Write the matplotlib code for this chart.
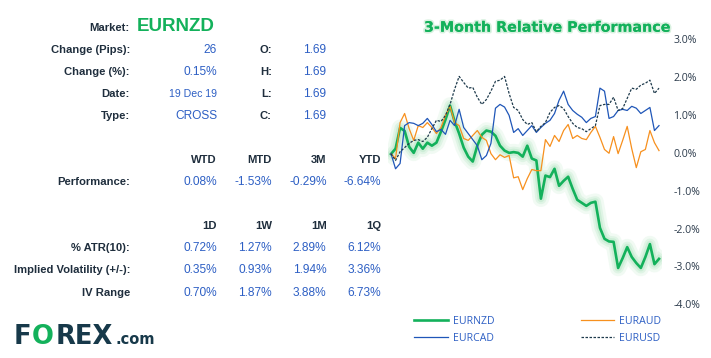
import matplotlib
matplotlib.use('Agg')
import matplotlib.pyplot as plt
import matplotlib.patheffects as pe
from matplotlib.ticker import FuncFormatter

# 3-month relative performance (%), one value per trading day
eurnzd = [-0.03, 0.11, 0.66, 0.58, 0.16, 0.00, 0.27, 0.11, 0.27, 0.19,
          0.27, 0.56, 0.88, 1.25, 0.83, 0.51, 0.14, -0.10, -0.23, 0.19,
          0.48, 0.59, 0.56, 0.45, 0.19, 0.06, 0.00, 0.02, 0.00, -0.10,
          0.19, -0.15, -0.20, -1.21, -0.60, -0.64, -0.42, -0.87, -0.74, -0.63,
          -0.95, -1.24, -1.32, -1.40, -1.32, -1.29, -1.98, -2.27, -2.34, -2.35,
          -3.04, -2.78, -2.49, -2.75, -2.91, -3.04, -2.75, -2.41, -2.94, -2.80]
euraud = [-0.02, -0.15, 0.80, 1.04, 0.64, 0.33, 0.72, 0.67, 0.80, 0.67,
          0.51, 0.67, 0.99, 1.23, 0.80, 0.72, 0.38, 0.33, 0.46, 0.59,
          0.41, 0.33, -0.02, -0.18, -0.05, -0.12, -0.07, -0.66, -0.63, -0.97,
          -0.68, -0.44, -0.47, -0.47, 0.35, 0.17, 0.46, 0.30, 0.59, 0.75,
          0.38, 0.46, 0.38, 0.35, 0.54, 0.70, 0.41, 0.09, -0.01, 0.43,
          -0.02, 0.33, 0.70, 0.11, -0.39, 0.03, 0.09, 0.59, 0.27, 0.06]
eurcad = [-0.02, -0.42, -0.28, 0.72, 0.80, 0.78, 0.72, 0.78, 0.91, 0.75,
          0.56, 0.62, 0.49, 0.86, 0.72, 1.15, 0.67, 0.51, 0.35, 0.19,
          -0.18, -0.07, 0.25, 1.18, 1.28, 1.21, 0.99, 0.54, 0.64, 0.46,
          0.59, 0.72, 0.54, 0.67, 0.78, 0.86, 1.04, 1.39, 1.63, 1.28,
          1.12, 1.02, 0.94, 0.80, 0.91, 0.96, 1.71, 1.63, 0.91, 0.96,
          1.12, 1.15, 1.12, 1.23, 1.18, 1.04, 1.12, 1.20, 0.59, 0.72]
eurusd = [-0.02, -0.20, 0.03, 0.14, 0.25, 0.33, 0.35, 0.30, 0.41, 0.64,
          0.86, 0.83, 0.99, 1.28, 1.68, 2.02, 1.86, 1.71, 1.73, 1.47,
          1.28, 1.41, 1.63, 1.89, 1.92, 2.02, 1.57, 1.20, 1.12, 0.88,
          0.75, 0.80, 0.56, 0.70, 0.80, 1.07, 1.20, 1.25, 1.17, 0.96,
          0.78, 0.67, 0.64, 0.56, 0.64, 0.72, 1.25, 1.28, 1.28, 1.47,
          1.12, 1.17, 1.44, 1.71, 1.68, 1.79, 1.84, 1.92, 1.57, 1.71]
yticks = [-4, -3, -2, -1, 0, 1, 2, 3]

# table contents
market = 'EURNZD'
info_labels = ['Change (Pips):', 'Change (%):', 'Date:', 'Type:']
info_values = ['26', '0.15%', '19 Dec 19', 'CROSS']
ohlc_labels = ['O:', 'H:', 'L:', 'C:']
ohlc_values = ['1.69', '1.69', '1.69', '1.69']
perf_periods = ['WTD', 'MTD', '3M', 'YTD']
perf_values = ['0.08%', '-1.53%', '-0.29%', '-6.64%']
vol_periods = ['1D', '1W', '1M', '1Q']
vol_labels = ['% ATR(10):', 'Implied Volatility (+/-):', 'IV Range']
atr_values = ['0.72%', '1.27%', '2.89%', '6.12%']
iv_values = ['0.35%', '0.93%', '1.94%', '3.36%']
ivr_values = ['0.70%', '1.87%', '3.88%', '6.73%']
vol_values = [atr_values, iv_values, ivr_values]

W, H = 711, 358
GREEN = '#13b15b'
DARK = '#1f2e3d'
BLUE = '#2d5fc4'

fig = plt.figure(figsize=(W / 100, H / 100), dpi=100)
fig.patch.set_facecolor('white')


def txt(x, y, s, **kw):
    # place text with pixel coords (origin top-left)
    kw.setdefault('family', 'Liberation Sans')
    kw.setdefault('va', 'baseline')
    return fig.text(x / W, 1 - y / H, s, **kw)


# ---- left table ----
lab = dict(ha='right', color=DARK, fontsize=8.1, fontweight='bold')
val = dict(ha='right', color=BLUE, fontsize=8.6)
cols = [217, 272, 326.5, 381]

txt(130, 30.7, 'Market:', **lab)
txt(137, 31, market, color=GREEN, fontsize=13.5, fontweight='bold', ha='left')
rows_y = [53.3, 75, 96.7, 119]
for i, y in enumerate(rows_y):
    txt(130, y, info_labels[i], **lab)
    fs = 7.6 if info_labels[i] == 'Date:' else 8.6
    txt(cols[0], y, info_values[i], ha='right', color=BLUE, fontsize=fs)
    txt(cols[1], y, ohlc_labels[i], **lab)
    txt(cols[2], y, ohlc_values[i], **val)

for j, p in enumerate(perf_periods):
    txt(cols[j], 163, p, **lab)
txt(130, 185, 'Performance:', **lab)
for j, v in enumerate(perf_values):
    txt(cols[j], 185, v, **val)

for j, p in enumerate(vol_periods):
    txt(cols[j], 229, p, **lab)
for i, y in enumerate([251.3, 273.3, 295.7]):
    txt(130, y, vol_labels[i], **lab)
    for j, v in enumerate(vol_values[i]):
        txt(cols[j], y, v, **val)

# ---- logo ----
logo = dict(family='DejaVu Sans', fontsize=18.5, fontweight='heavy', color='#17394a')
txt(14, 344, 'F', **logo)
txt(32, 344, 'O', **dict(logo, color=GREEN))
txt(56, 344, 'REX', **logo)
txt(116, 344, '.com', family='DejaVu Sans', fontsize=10.5, fontweight='bold', color='#17394a')

# ---- chart ----
ax = fig.add_axes([388 / W, 1 - 304.3 / H, 274 / W, 265 / H])
x = list(range(len(eurnzd)))

glow = [pe.Stroke(linewidth=12, foreground='#e8f7ec', alpha=0.6),
        pe.Stroke(linewidth=8, foreground='#d4f0dc', alpha=0.6),
        pe.Stroke(linewidth=5, foreground='#c0e9cc', alpha=0.6),
        pe.Normal()]
l_nzd, = ax.plot(x, eurnzd, color=GREEN, lw=1.9, label='EURNZD',
                 path_effects=glow, zorder=2)
l_aud, = ax.plot(x, euraud, color='#f7901e', lw=0.9, label='EURAUD', zorder=3)
l_cad, = ax.plot(x, eurcad, color='#1f56b8', lw=0.9, label='EURCAD', zorder=4)
l_usd, = ax.plot(x, eurusd, color='#1e3a4c', lw=0.9, ls=(0, (2, 1.2)),
                 label='EURUSD', zorder=5)

ax.set_xlim(-0.66, len(x) - 1 + 0.66)
ax.set_ylim(-4, 3)
ax.set_yticks(yticks)
ax.yaxis.set_major_formatter(FuncFormatter(lambda v, p: f'{v:.1f}%'))
ax.yaxis.tick_right()
ax.set_xticks([])
ax.tick_params(axis='y', length=0, pad=8, labelsize=7.6, labelcolor='#2b3a4b')
for t in ax.get_yticklabels():
    t.set_family('Open Sans')
for s in ax.spines.values():
    s.set_visible(False)

t = txt(424, 31.7, '3-Month Relative Performance', family='DejaVu Sans',
        fontsize=10.3, fontweight='bold', color=GREEN, ha='left')
t.set_path_effects([pe.withStroke(linewidth=2.5, foreground='#d9f1e0'), pe.Normal()])

leg = fig.legend(handles=[l_nzd, l_cad, l_aud, l_usd], ncol=2,
                 loc='upper left', bbox_to_anchor=(414 / W, 1 - 316 / H),
                 frameon=False, prop={'family': 'Open Sans', 'size': 7.6},
                 handlelength=3.2, handletextpad=0.45, columnspacing=8.2,
                 labelspacing=0.55, borderpad=0, borderaxespad=0)
for tx in leg.get_texts():
    tx.set_color(BLUE)
for h in leg.legend_handles:
    h.set_path_effects([])

fig.savefig('out.png', dpi=100, facecolor='white')
